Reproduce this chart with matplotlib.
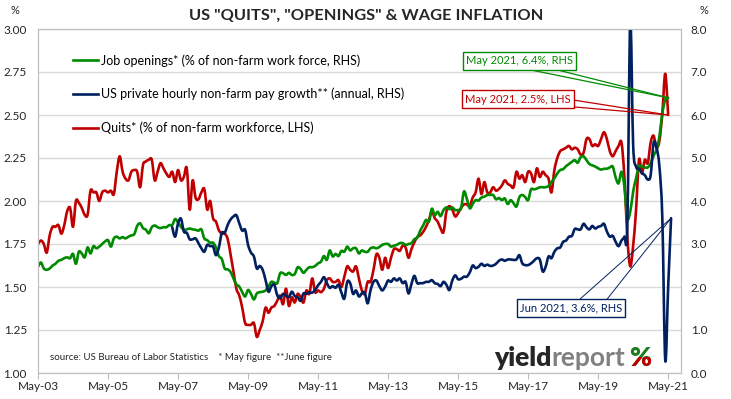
import numpy as np
import matplotlib
matplotlib.use('Agg')
import matplotlib.pyplot as plt
from matplotlib.path import Path
from matplotlib.patches import PathPatch
from matplotlib.lines import Line2D
from matplotlib.transforms import Bbox

plt.rcParams['font.family'] = ['Lato', 'DejaVu Sans']

# monthly data, month 0 = May 2003
quits = [  # % of non-farm workforce, LHS (May-03 .. May-21)
    1.75, 1.77, 1.75, 1.70, 1.80, 1.85, 1.85, 1.86, 1.81, 1.86,
    1.94, 1.96, 1.85, 2.00, 1.99, 1.96, 1.92, 1.92, 2.06, 2.05,
    2.05, 2.00, 2.05, 2.06, 2.05, 2.06, 2.04, 2.17, 2.26, 2.17,
    2.13, 2.12, 2.17, 2.18, 2.17, 2.08, 2.21, 2.23, 2.24, 2.24,
    2.12, 2.17, 2.22, 2.19, 2.16, 2.14, 2.17, 2.11, 2.18, 2.12,
    2.14, 2.19, 1.95, 2.12, 2.02, 2.01, 2.05,
    2.07, 1.95, 2.00, 1.90, 1.88, 1.83, 1.81, 1.81, 1.78, 1.69,
    1.59, 1.49, 1.45, 1.38, 1.29, 1.28, 1.28, 1.29, 1.21, 1.25,
    1.30, 1.38, 1.35, 1.38, 1.39, 1.42, 1.45, 1.40, 1.49, 1.39,
    1.44, 1.41, 1.46, 1.44, 1.41, 1.48, 1.46, 1.55, 1.47, 1.48,
    1.47, 1.49, 1.54, 1.55, 1.53, 1.53, 1.54, 1.50, 1.56, 1.62,
    1.60, 1.59, 1.62, 1.55,
    1.48, 1.46, 1.53, 1.53, 1.60, 1.69, 1.67, 1.60, 1.67, 1.61,
    1.67, 1.72, 1.72, 1.71, 1.74, 1.73, 1.67, 1.72, 1.76, 1.79,
    1.80, 1.82, 1.85, 1.89, 1.94, 1.90, 1.88, 1.84, 1.82, 1.94,
    1.97, 1.95, 1.91, 1.93, 1.96, 1.98, 1.98, 1.97, 2.02, 2.05,
    2.13, 2.04, 2.11, 2.05, 2.05, 2.08, 2.06, 2.07, 2.09, 2.12,
    2.10, 2.09, 2.08, 2.17, 2.13,
    2.15, 2.11, 2.17, 2.16, 2.11, 2.19, 2.14, 2.17, 2.15, 2.13,
    2.05, 2.18, 2.25, 2.29, 2.30, 2.31, 2.32, 2.30, 2.31, 2.30,
    2.27, 2.28, 2.36, 2.36, 2.32, 2.33, 2.32, 2.36, 2.40, 2.36,
    2.29, 2.26, 2.29, 2.32, 2.34, 2.14, 1.79, 1.62, 1.74, 1.95,
    2.24, 2.16, 2.24, 2.22, 2.34, 2.38, 2.31, 2.35, 2.51, 2.74, 2.50,
]

openings = [  # % of non-farm work force, RHS (May-03 .. May-21)
    2.47, 2.57, 2.43, 2.40, 2.43, 2.50, 2.54, 2.61, 2.63, 2.67,
    2.69, 2.67, 2.77, 2.54, 2.82, 2.78, 2.69, 2.92, 2.78, 2.95,
    2.90, 2.94, 3.00, 3.06, 3.09, 2.94, 3.13, 3.17, 3.13, 3.16,
    3.13, 3.17, 3.20, 3.23, 3.42, 3.48, 3.37, 3.33, 3.25, 3.39,
    3.43, 3.39, 3.37, 3.39, 3.39, 3.44, 3.44, 3.58, 3.50, 3.40,
    3.33, 3.34, 3.36, 3.34, 3.33, 3.31, 3.34,
    3.13, 3.09, 3.03, 3.03, 2.92, 2.72, 2.65, 2.43, 2.41, 2.35,
    2.20, 2.06, 2.01, 1.88, 1.78, 1.93, 1.84, 1.71, 1.85, 1.88,
    1.89, 1.92, 2.01, 2.12, 2.10, 2.09, 2.32, 2.32, 2.28, 2.33,
    2.28, 2.30, 2.46, 2.42, 2.33, 2.40, 2.46, 2.46, 2.49, 2.55,
    2.59, 2.72, 2.63, 2.85, 2.71, 2.77, 2.72, 2.84, 2.82, 2.94,
    2.85, 2.90, 2.90, 2.78,
    2.85, 2.82, 2.82, 2.90, 2.92, 2.90, 2.93, 2.98, 3.00, 3.00,
    2.94, 2.96, 2.98, 3.02, 3.02, 2.98, 3.00, 3.02, 3.11, 3.15,
    3.31, 3.43, 3.56, 3.52, 3.82, 3.67, 3.75, 3.65, 3.79, 3.85,
    3.81, 3.85, 3.79, 3.79, 3.83, 4.22, 4.05, 3.83, 3.93, 4.02,
    4.01, 4.08, 4.10, 4.14, 4.14, 4.14, 4.04, 4.07, 4.02, 4.06,
    3.93, 4.02, 3.95, 3.87, 4.09,
    4.14, 4.09, 4.02, 4.27, 4.27, 4.29, 4.32, 4.32, 4.32, 4.35,
    4.44, 4.53, 4.64, 4.72, 4.74, 4.81, 4.86, 4.91, 4.95, 4.89,
    5.02, 5.04, 4.95, 4.86, 4.83, 4.80, 4.76, 4.73, 4.75, 4.75,
    4.78, 4.80, 4.55, 4.41, 4.68, 4.33, 3.60, 3.75, 4.22, 4.53,
    4.81, 4.80, 4.78, 4.78, 4.88, 5.05, 5.20, 5.50, 6.04, 6.35, 6.40,
]

pay_start = 46  # Mar-07
pay_growth = [  # annual %, RHS (Mar-07 .. Jun-21)
    3.39, 3.17, 3.48, 3.59, 3.29, 3.26, 3.11, 3.11, 3.13, 3.02, 2.90,
    2.82, 2.98, 2.95, 2.94, 2.74, 2.92, 3.26, 3.26, 3.44, 3.57,
    3.64, 3.67, 3.48, 3.31, 3.33, 2.98, 2.80, 2.71, 2.43, 2.49,
    2.40, 2.16, 1.89, 2.02, 2.05, 1.81, 1.74, 1.84, 1.80, 1.76,
    1.89, 1.79, 1.76, 1.68, 1.85, 1.84, 1.87, 1.87, 1.93, 2.04,
    2.12, 2.23, 2.09, 1.98, 2.02, 1.98, 2.05, 1.87, 1.73, 2.12,
    2.09, 1.84, 1.92, 1.78,
    1.85, 1.87, 1.62, 1.93, 2.12, 2.15, 2.02, 1.92, 2.01, 2.15,
    2.12, 2.20, 2.15, 2.20, 2.09, 2.12, 1.85, 2.07, 2.26, 2.09,
    2.09, 2.09, 2.12, 2.12, 2.16, 2.09, 2.07, 2.02, 2.12, 2.05,
    1.93, 2.15, 2.27, 2.18, 2.19, 2.24, 2.24, 2.34, 2.50, 2.44,
    2.47, 2.54, 2.49, 2.52, 2.49, 2.50, 2.54, 2.61, 2.64, 2.61,
    2.64, 2.64, 2.63, 2.64, 2.74,
    2.55, 2.51, 2.51, 2.55, 2.61, 2.67, 2.64, 2.36, 2.47, 2.71,
    2.67, 2.82, 2.90, 2.92, 3.05, 3.08, 3.17, 3.19, 3.35, 3.34,
    3.34, 3.47, 3.39, 3.34, 3.42, 3.36, 3.40, 3.42, 3.47, 3.29,
    3.17, 3.19, 3.05, 2.95, 3.08, 3.17, 3.40, 8.20, 5.30, 4.80,
    4.75, 4.65, 4.60, 4.50, 4.60, 5.35, 5.25, 4.80, 3.60, 0.30, 2.00, 3.60,
]

tick_labels = ['May-03', 'May-05', 'May-07', 'May-09', 'May-11',
               'May-13', 'May-15', 'May-17', 'May-19', 'May-21']

GREEN = '#008a00'
NAVY = '#002060'
RED = '#c00000'
GRID = '#d9d9d9'


def smooth_path(x, y):
    # excel-style smoothed line (catmull-rom as cubic bezier)
    x = np.asarray(x, float)
    y = np.asarray(y, float)
    xp = np.r_[x[0], x, x[-1]]
    yp = np.r_[y[0], y, y[-1]]
    verts = [(x[0], y[0])]
    codes = [Path.MOVETO]
    for i in range(1, len(xp) - 2):
        c1 = (xp[i] + (xp[i + 1] - xp[i - 1]) / 6, yp[i] + (yp[i + 1] - yp[i - 1]) / 6)
        c2 = (xp[i + 1] - (xp[i + 2] - xp[i]) / 6, yp[i + 1] - (yp[i + 2] - yp[i]) / 6)
        verts += [c1, c2, (xp[i + 1], yp[i + 1])]
        codes += [Path.CURVE4] * 3
    return Path(verts, codes)


def add_series(axis, x, y, color):
    p = PathPatch(smooth_path(x, y), fill=False, edgecolor=color, lw=1.9,
                  capstyle='round', joinstyle='round')
    axis.add_patch(p)


fig = plt.figure(figsize=(7.31, 3.99), dpi=100)
ax = fig.add_axes([38 / 731, 26 / 399, 643 / 731, 344 / 399])
ax2 = ax.twinx()

m_quits = np.arange(len(quits))
m_open = np.arange(len(openings))
m_pay = np.arange(pay_start, pay_start + len(pay_growth))

ax.set_xlim(0, 220.4)
ax.set_ylim(1, 3)
ax2.set_ylim(0, 8)

ax.set_yticks(np.arange(1, 3.01, 0.25))
ax.set_yticklabels(['%.2f' % v for v in np.arange(1, 3.01, 0.25)])
ax2.set_yticks(np.arange(0, 9))
ax2.set_yticklabels(['%.1f' % v for v in np.arange(0, 9)])
ax.set_xticks(np.arange(0, 24 * len(tick_labels), 24))
ax.set_xticklabels(tick_labels)

ax.grid(axis='y', color=GRID, lw=1)
ax.set_axisbelow(True)
for a in (ax, ax2):
    for s in a.spines.values():
        s.set_color('#bfbfbf')
ax.tick_params(axis='x', length=4, color='#bfbfbf', pad=1.5, labelsize=8.5, labelcolor='#262626')
ax.tick_params(axis='y', length=0, pad=8, labelsize=8.5, labelcolor='#262626')
ax2.tick_params(axis='y', length=0, pad=7, labelsize=8.5, labelcolor='#262626')

add_series(ax, m_quits, quits, RED)
add_series(ax2, m_open, openings, GREEN)
add_series(ax2, m_pay, pay_growth, NAVY)

handles = [Line2D([], [], color=GREEN, lw=1.9),
           Line2D([], [], color=NAVY, lw=1.9),
           Line2D([], [], color=RED, lw=1.9)]
labels = ['Job openings* (% of non-farm work force, RHS)',
          'US private hourly non-farm pay growth** (annual, RHS)',
          'Quits* (% of non-farm workforce, LHS)']
ax2.legend(handles, labels, loc='upper left', bbox_to_anchor=(0.054, 0.927),
           frameon=False, fontsize=9, handlelength=2.0, handletextpad=0.3,
           labelspacing=1.7, borderaxespad=0, borderpad=0)

# callouts
last_q = len(quits) - 1
last_o = len(openings) - 1
last_p = m_pay[-1]

ax2.text(165, 7.26, 'May 2021, 6.4%, RHS', color=GREEN, fontsize=8, ha='center', va='center',
         bbox=dict(boxstyle='square,pad=0.3', fc='white', ec=GREEN, lw=1), zorder=6)
for xs, ys in [(168.7, 7.05), (177.9, 7.05)]:
    ax2.plot([xs, last_o], [ys, openings[-1]], color=GREEN, lw=0.9, zorder=5)

ax2.text(164.5, 6.37, 'May 2021, 2.5%, LHS', color=RED, fontsize=8, ha='center', va='center',
         bbox=dict(boxstyle='square,pad=0.3', fc='white', ec=RED, lw=1), zorder=6)
for xs, ys in [(183.6, 2.587), (183.6, 2.547)]:
    ax2.plot([xs, last_q], [(ys - 1) * 4, (quits[-1] - 1) * 4], color=RED, lw=0.9, zorder=5)

ax2.text(182.7, 1.51, 'Jun 2021, 3.6%, RHS', color=NAVY, fontsize=8, ha='center', va='center',
         bbox=dict(boxstyle='square,pad=0.3', fc='white', ec=NAVY, lw=1), zorder=6)
for xs, ys in [(185.8, 1.72), (195.1, 1.72)]:
    ax2.plot([xs, last_p], [ys, pay_growth[-1]], color=NAVY, lw=0.7, zorder=5)

ax.text(4.1, 1.093, 'source: US Bureau of Labor Statistics    * May figure  **June figure',
        fontsize=7, color='#262626', va='center')

fig.text(366 / 731, 1 - 16 / 399, 'US "QUITS", "OPENINGS" & WAGE INFLATION',
         ha='center', va='center', fontsize=11.8, fontweight='bold', color='#262626')
fig.text(15 / 731, 1 - 11 / 399, '%', ha='center', va='center', fontsize=8, color='#262626')
fig.text(704 / 731, 1 - 11 / 399, '%', ha='center', va='center', fontsize=8, color='#262626')

# logo
fig.canvas.draw()
r = fig.canvas.get_renderer()
t1 = fig.text(494 / 731, 1 - 366 / 399, 'yield', fontsize=19, fontweight='heavy',
              color='#262626', va='baseline')
bb = t1.get_window_extent(r)
t2 = fig.text(bb.x1 / 731, 1 - 366 / 399, 'report', fontsize=19, fontweight='bold',
              color='#808080', va='baseline')
bb2 = t2.get_window_extent(r)
t3 = fig.text(bb2.x1 / 731 + 0.006, 1 - 366 / 399, '%', fontsize=19, fontweight='heavy',
              color='#1e7b1e', va='baseline')
bb3 = t3.get_window_extent(r)
t4 = fig.text(bb2.x1 / 731 + 0.006, 1 - 366 / 399, '%', fontsize=19, fontweight='heavy',
              color=RED, va='baseline')
t4.set_clip_on(True)
t4.set_clip_box(Bbox([[bb3.x0 - 2, bb3.y0 - 5], [bb3.x1 + 2, bb3.y0 + 0.55 * bb3.height]]))

fig.savefig('out.png', dpi=100)
